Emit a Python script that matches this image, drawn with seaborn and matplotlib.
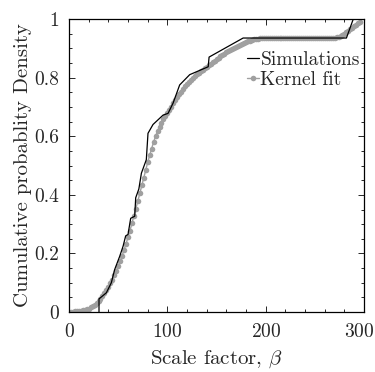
import numpy as np
import pandas as pd
import matplotlib
matplotlib.use("Agg")
import matplotlib.pyplot as plt
import matplotlib.transforms as mtransforms
from matplotlib.ticker import MultipleLocator, FuncFormatter
import seaborn as sns

# Simulation (empirical CDF) vertices
sim_x = [30.5, 30.5, 38, 43, 46.4, 51.5, 55, 57.6, 60, 62.7, 66.8, 67.8, 71, 73.6,
         78.6, 80.3, 85.4, 95.6, 100.7, 105.8, 112.5, 122.7, 141.5, 142.4, 177,
         282, 289, 295]
sim_y = [0.0, 0.045, 0.066, 0.10, 0.145, 0.19, 0.225, 0.26, 0.265, 0.32, 0.327, 0.39,
         0.42, 0.474, 0.52, 0.61, 0.64, 0.672, 0.678, 0.713, 0.775, 0.81, 0.837,
         0.87, 0.935, 0.935, 1.0, 1.08]

# Kernel fit (sampled every 2 units, 0..296)
ker_x = list(range(0, 297, 2))
ker_y = [0.002, 0.002, 0.002, 0.003, 0.003, 0.004, 0.005, 0.006, 0.008, 0.010,
         0.012, 0.016, 0.020, 0.025, 0.031, 0.038, 0.046, 0.055, 0.064, 0.074,
         0.086, 0.098, 0.111, 0.125, 0.140, 0.156, 0.174, 0.192, 0.212, 0.233,
         0.255, 0.278, 0.303, 0.328, 0.353, 0.379, 0.405, 0.432, 0.458, 0.485,
         0.511, 0.535, 0.558, 0.580, 0.600, 0.618, 0.633, 0.646, 0.658, 0.669,
         0.679, 0.690, 0.701, 0.712, 0.722, 0.733, 0.743, 0.752, 0.761, 0.770,
         0.778, 0.785, 0.792, 0.799, 0.805, 0.811, 0.816, 0.821, 0.827, 0.832,
         0.837, 0.843, 0.848, 0.853, 0.858, 0.863, 0.868, 0.872, 0.877, 0.882,
         0.886, 0.890, 0.894, 0.898, 0.902, 0.905, 0.909, 0.912, 0.915, 0.918,
         0.921, 0.924, 0.926, 0.928, 0.930, 0.932, 0.933, 0.934, 0.935, 0.935,
         0.935, 0.935, 0.935, 0.935, 0.935, 0.935, 0.935, 0.935, 0.935, 0.935,
         0.935, 0.935, 0.935, 0.935, 0.935, 0.935, 0.935, 0.935, 0.935, 0.935,
         0.935, 0.935, 0.935, 0.935, 0.935, 0.935, 0.935, 0.935, 0.935, 0.935,
         0.935, 0.935, 0.935, 0.935, 0.935, 0.936, 0.938, 0.940, 0.943, 0.946,
         0.950, 0.955, 0.960, 0.965, 0.970, 0.975, 0.980, 0.985, 0.988]
ker_x = ker_x[:len(ker_y)]

x_ticks = [0, 100, 200, 300]
y_ticks = [0, 0.2, 0.4, 0.6, 0.8, 1.0]

sns.set_style("ticks")
plt.rcParams["font.family"] = ["cmr10", "DejaVu Serif"]
plt.rcParams["mathtext.fontset"] = "cm"
plt.rcParams["axes.formatter.use_mathtext"] = True

fig = plt.figure(figsize=(3.75, 3.72), dpi=100)
ax = fig.add_axes([0.184, 0.161, 0.787, 0.788])

sim = pd.DataFrame({"x": sim_x, "y": sim_y})
ker = pd.DataFrame({"x": ker_x, "y": ker_y})

sns.lineplot(data=ker, x="x", y="y", ax=ax, sort=False, estimator=None,
             color="#a0a0a0", linewidth=1.0, marker="o", markersize=4.0,
             markeredgewidth=0, label="Kernel fit", zorder=2)
sns.lineplot(data=sim, x="x", y="y", ax=ax, sort=False, estimator=None,
             color="black", linewidth=0.9, label="Simulations", zorder=3)

ax.set_xlim(0, 300)
ax.set_ylim(0, 1)
ax.set_xticks(x_ticks)
ax.set_yticks(y_ticks)
ax.xaxis.set_minor_locator(MultipleLocator(20))
ax.yaxis.set_minor_locator(MultipleLocator(0.05))
ax.yaxis.set_major_formatter(FuncFormatter(lambda v, p: "%g" % v))
ax.tick_params(which="both", direction="in", top=True, right=True,
               labelsize=14, width=0.7)
ax.tick_params(axis="x", which="major", pad=8)
ax.tick_params(axis="y", which="major", pad=7)
ax.tick_params(which="major", length=4)
ax.tick_params(which="minor", length=2.5)
for s in ax.spines.values():
    s.set_linewidth(0.9)
    s.set_color("black")

ax.set_xlabel(r"Scale factor, $\beta$", fontsize=15, labelpad=5)
ax.set_ylabel("Cumulative probablity Density", fontsize=15, labelpad=1.5)

# keep the last x tick label inside the figure, as in the reference
fig.canvas.draw()
last = ax.get_xticklabels()[-1]
last.set_transform(last.get_transform() +
                   mtransforms.ScaledTranslation(-5 / 100, 0, fig.dpi_scale_trans))

handles, labels = ax.get_legend_handles_labels()
order = [labels.index("Simulations"), labels.index("Kernel fit")]
ax.legend([handles[i] for i in order], [labels[i] for i in order],
          loc="upper right", bbox_to_anchor=(1.025, 0.93), frameon=False,
          fontsize=14, handlelength=0.6, handletextpad=0.1, labelspacing=0.1,
          borderaxespad=0.2)

fig.savefig("out.png", dpi=100)
